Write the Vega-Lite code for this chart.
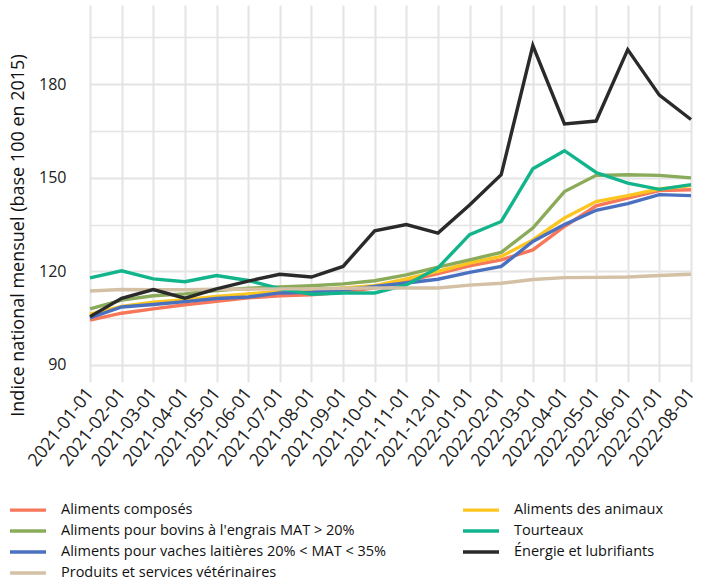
{
  "$schema": "https://vega.github.io/schema/vega-lite/v6.json",
  "width": 634,
  "height": 377,
  "autosize": {"type": "none"},
  "padding": {"left": 70, "top": 5, "right": 0, "bottom": 203},
  "background": "white",
  "config": {
    "view": {"stroke": null},
    "font": "Open Sans"
  },
  "data": {"values": [
      {"mois": "2021-01-01", "serie": "Aliments composés", "indice": 104.4},
      {"mois": "2021-02-01", "serie": "Aliments composés", "indice": 106.6},
      {"mois": "2021-03-01", "serie": "Aliments composés", "indice": 108.0},
      {"mois": "2021-04-01", "serie": "Aliments composés", "indice": 109.3},
      {"mois": "2021-05-01", "serie": "Aliments composés", "indice": 110.4},
      {"mois": "2021-06-01", "serie": "Aliments composés", "indice": 111.5},
      {"mois": "2021-07-01", "serie": "Aliments composés", "indice": 112.2},
      {"mois": "2021-08-01", "serie": "Aliments composés", "indice": 112.5},
      {"mois": "2021-09-01", "serie": "Aliments composés", "indice": 113.3},
      {"mois": "2021-10-01", "serie": "Aliments composés", "indice": 114.7},
      {"mois": "2021-11-01", "serie": "Aliments composés", "indice": 116.8},
      {"mois": "2021-12-01", "serie": "Aliments composés", "indice": 119.3},
      {"mois": "2022-01-01", "serie": "Aliments composés", "indice": 121.8},
      {"mois": "2022-02-01", "serie": "Aliments composés", "indice": 123.7},
      {"mois": "2022-03-01", "serie": "Aliments composés", "indice": 126.9},
      {"mois": "2022-04-01", "serie": "Aliments composés", "indice": 134.4},
      {"mois": "2022-05-01", "serie": "Aliments composés", "indice": 141.0},
      {"mois": "2022-06-01", "serie": "Aliments composés", "indice": 143.5},
      {"mois": "2022-07-01", "serie": "Aliments composés", "indice": 145.9},
      {"mois": "2022-08-01", "serie": "Aliments composés", "indice": 146.2},

      {"mois": "2021-01-01", "serie": "Aliments des animaux", "indice": 106.3},
      {"mois": "2021-02-01", "serie": "Aliments des animaux", "indice": 108.8},
      {"mois": "2021-03-01", "serie": "Aliments des animaux", "indice": 110.1},
      {"mois": "2021-04-01", "serie": "Aliments des animaux", "indice": 110.9},
      {"mois": "2021-05-01", "serie": "Aliments des animaux", "indice": 112.0},
      {"mois": "2021-06-01", "serie": "Aliments des animaux", "indice": 112.8},
      {"mois": "2021-07-01", "serie": "Aliments des animaux", "indice": 113.6},
      {"mois": "2021-08-01", "serie": "Aliments des animaux", "indice": 114.1},
      {"mois": "2021-09-01", "serie": "Aliments des animaux", "indice": 114.7},
      {"mois": "2021-10-01", "serie": "Aliments des animaux", "indice": 115.4},
      {"mois": "2021-11-01", "serie": "Aliments des animaux", "indice": 117.6},
      {"mois": "2021-12-01", "serie": "Aliments des animaux", "indice": 120.0},
      {"mois": "2022-01-01", "serie": "Aliments des animaux", "indice": 122.7},
      {"mois": "2022-02-01", "serie": "Aliments des animaux", "indice": 124.8},
      {"mois": "2022-03-01", "serie": "Aliments des animaux", "indice": 130.1},
      {"mois": "2022-04-01", "serie": "Aliments des animaux", "indice": 137.1},
      {"mois": "2022-05-01", "serie": "Aliments des animaux", "indice": 142.4},
      {"mois": "2022-06-01", "serie": "Aliments des animaux", "indice": 144.3},
      {"mois": "2022-07-01", "serie": "Aliments des animaux", "indice": 146.4},
      {"mois": "2022-08-01", "serie": "Aliments des animaux", "indice": 147.5},

      {"mois": "2021-01-01", "serie": "Aliments pour bovins à l'engrais MAT > 20%", "indice": 108.0},
      {"mois": "2021-02-01", "serie": "Aliments pour bovins à l'engrais MAT > 20%", "indice": 110.8},
      {"mois": "2021-03-01", "serie": "Aliments pour bovins à l'engrais MAT > 20%", "indice": 112.2},
      {"mois": "2021-04-01", "serie": "Aliments pour bovins à l'engrais MAT > 20%", "indice": 112.8},
      {"mois": "2021-05-01", "serie": "Aliments pour bovins à l'engrais MAT > 20%", "indice": 113.9},
      {"mois": "2021-06-01", "serie": "Aliments pour bovins à l'engrais MAT > 20%", "indice": 114.6},
      {"mois": "2021-07-01", "serie": "Aliments pour bovins à l'engrais MAT > 20%", "indice": 115.0},
      {"mois": "2021-08-01", "serie": "Aliments pour bovins à l'engrais MAT > 20%", "indice": 115.4},
      {"mois": "2021-09-01", "serie": "Aliments pour bovins à l'engrais MAT > 20%", "indice": 116.0},
      {"mois": "2021-10-01", "serie": "Aliments pour bovins à l'engrais MAT > 20%", "indice": 117.0},
      {"mois": "2021-11-01", "serie": "Aliments pour bovins à l'engrais MAT > 20%", "indice": 118.9},
      {"mois": "2021-12-01", "serie": "Aliments pour bovins à l'engrais MAT > 20%", "indice": 121.4},
      {"mois": "2022-01-01", "serie": "Aliments pour bovins à l'engrais MAT > 20%", "indice": 123.7},
      {"mois": "2022-02-01", "serie": "Aliments pour bovins à l'engrais MAT > 20%", "indice": 126.1},
      {"mois": "2022-03-01", "serie": "Aliments pour bovins à l'engrais MAT > 20%", "indice": 133.9},
      {"mois": "2022-04-01", "serie": "Aliments pour bovins à l'engrais MAT > 20%", "indice": 145.6},
      {"mois": "2022-05-01", "serie": "Aliments pour bovins à l'engrais MAT > 20%", "indice": 150.8},
      {"mois": "2022-06-01", "serie": "Aliments pour bovins à l'engrais MAT > 20%", "indice": 151.0},
      {"mois": "2022-07-01", "serie": "Aliments pour bovins à l'engrais MAT > 20%", "indice": 150.8},
      {"mois": "2022-08-01", "serie": "Aliments pour bovins à l'engrais MAT > 20%", "indice": 150.0},

      {"mois": "2021-01-01", "serie": "Aliments pour vaches laitières 20% < MAT < 35%", "indice": 105.1},
      {"mois": "2021-02-01", "serie": "Aliments pour vaches laitières 20% < MAT < 35%", "indice": 108.6},
      {"mois": "2021-03-01", "serie": "Aliments pour vaches laitières 20% < MAT < 35%", "indice": 109.4},
      {"mois": "2021-04-01", "serie": "Aliments pour vaches laitières 20% < MAT < 35%", "indice": 110.3},
      {"mois": "2021-05-01", "serie": "Aliments pour vaches laitières 20% < MAT < 35%", "indice": 111.3},
      {"mois": "2021-06-01", "serie": "Aliments pour vaches laitières 20% < MAT < 35%", "indice": 111.8},
      {"mois": "2021-07-01", "serie": "Aliments pour vaches laitières 20% < MAT < 35%", "indice": 113.1},
      {"mois": "2021-08-01", "serie": "Aliments pour vaches laitières 20% < MAT < 35%", "indice": 113.3},
      {"mois": "2021-09-01", "serie": "Aliments pour vaches laitières 20% < MAT < 35%", "indice": 114.1},
      {"mois": "2021-10-01", "serie": "Aliments pour vaches laitières 20% < MAT < 35%", "indice": 115.2},
      {"mois": "2021-11-01", "serie": "Aliments pour vaches laitières 20% < MAT < 35%", "indice": 116.3},
      {"mois": "2021-12-01", "serie": "Aliments pour vaches laitières 20% < MAT < 35%", "indice": 117.5},
      {"mois": "2022-01-01", "serie": "Aliments pour vaches laitières 20% < MAT < 35%", "indice": 119.7},
      {"mois": "2022-02-01", "serie": "Aliments pour vaches laitières 20% < MAT < 35%", "indice": 121.6},
      {"mois": "2022-03-01", "serie": "Aliments pour vaches laitières 20% < MAT < 35%", "indice": 129.6},
      {"mois": "2022-04-01", "serie": "Aliments pour vaches laitières 20% < MAT < 35%", "indice": 135.0},
      {"mois": "2022-05-01", "serie": "Aliments pour vaches laitières 20% < MAT < 35%", "indice": 139.6},
      {"mois": "2022-06-01", "serie": "Aliments pour vaches laitières 20% < MAT < 35%", "indice": 141.7},
      {"mois": "2022-07-01", "serie": "Aliments pour vaches laitières 20% < MAT < 35%", "indice": 144.6},
      {"mois": "2022-08-01", "serie": "Aliments pour vaches laitières 20% < MAT < 35%", "indice": 144.3},

      {"mois": "2021-01-01", "serie": "Tourteaux", "indice": 117.9},
      {"mois": "2021-02-01", "serie": "Tourteaux", "indice": 120.2},
      {"mois": "2021-03-01", "serie": "Tourteaux", "indice": 117.6},
      {"mois": "2021-04-01", "serie": "Tourteaux", "indice": 116.7},
      {"mois": "2021-05-01", "serie": "Tourteaux", "indice": 118.7},
      {"mois": "2021-06-01", "serie": "Tourteaux", "indice": 117.1},
      {"mois": "2021-07-01", "serie": "Tourteaux", "indice": 114.5},
      {"mois": "2021-08-01", "serie": "Tourteaux", "indice": 112.7},
      {"mois": "2021-09-01", "serie": "Tourteaux", "indice": 113.1},
      {"mois": "2021-10-01", "serie": "Tourteaux", "indice": 113.1},
      {"mois": "2021-11-01", "serie": "Tourteaux", "indice": 115.7},
      {"mois": "2021-12-01", "serie": "Tourteaux", "indice": 121.1},
      {"mois": "2022-01-01", "serie": "Tourteaux", "indice": 131.8},
      {"mois": "2022-02-01", "serie": "Tourteaux", "indice": 136.0},
      {"mois": "2022-03-01", "serie": "Tourteaux", "indice": 152.9},
      {"mois": "2022-04-01", "serie": "Tourteaux", "indice": 158.7},
      {"mois": "2022-05-01", "serie": "Tourteaux", "indice": 151.7},
      {"mois": "2022-06-01", "serie": "Tourteaux", "indice": 148.3},
      {"mois": "2022-07-01", "serie": "Tourteaux", "indice": 146.3},
      {"mois": "2022-08-01", "serie": "Tourteaux", "indice": 147.8},

      {"mois": "2021-01-01", "serie": "Produits et services vétérinaires", "indice": 113.7},
      {"mois": "2021-02-01", "serie": "Produits et services vétérinaires", "indice": 114.2},
      {"mois": "2021-03-01", "serie": "Produits et services vétérinaires", "indice": 114.1},
      {"mois": "2021-04-01", "serie": "Produits et services vétérinaires", "indice": 114.1},
      {"mois": "2021-05-01", "serie": "Produits et services vétérinaires", "indice": 114.3},
      {"mois": "2021-06-01", "serie": "Produits et services vétérinaires", "indice": 114.3},
      {"mois": "2021-07-01", "serie": "Produits et services vétérinaires", "indice": 114.4},
      {"mois": "2021-08-01", "serie": "Produits et services vétérinaires", "indice": 114.4},
      {"mois": "2021-09-01", "serie": "Produits et services vétérinaires", "indice": 114.6},
      {"mois": "2021-10-01", "serie": "Produits et services vétérinaires", "indice": 114.7},
      {"mois": "2021-11-01", "serie": "Produits et services vétérinaires", "indice": 114.7},
      {"mois": "2021-12-01", "serie": "Produits et services vétérinaires", "indice": 114.7},
      {"mois": "2022-01-01", "serie": "Produits et services vétérinaires", "indice": 115.6},
      {"mois": "2022-02-01", "serie": "Produits et services vétérinaires", "indice": 116.2},
      {"mois": "2022-03-01", "serie": "Produits et services vétérinaires", "indice": 117.4},
      {"mois": "2022-04-01", "serie": "Produits et services vétérinaires", "indice": 118.0},
      {"mois": "2022-05-01", "serie": "Produits et services vétérinaires", "indice": 118.1},
      {"mois": "2022-06-01", "serie": "Produits et services vétérinaires", "indice": 118.2},
      {"mois": "2022-07-01", "serie": "Produits et services vétérinaires", "indice": 118.7},
      {"mois": "2022-08-01", "serie": "Produits et services vétérinaires", "indice": 119.1},

      {"mois": "2021-01-01", "serie": "Énergie et lubrifiants", "indice": 105.5},
      {"mois": "2021-02-01", "serie": "Énergie et lubrifiants", "indice": 111.4},
      {"mois": "2021-03-01", "serie": "Énergie et lubrifiants", "indice": 114.2},
      {"mois": "2021-04-01", "serie": "Énergie et lubrifiants", "indice": 111.4},
      {"mois": "2021-05-01", "serie": "Énergie et lubrifiants", "indice": 114.4},
      {"mois": "2021-06-01", "serie": "Énergie et lubrifiants", "indice": 116.9},
      {"mois": "2021-07-01", "serie": "Énergie et lubrifiants", "indice": 119.1},
      {"mois": "2021-08-01", "serie": "Énergie et lubrifiants", "indice": 118.2},
      {"mois": "2021-09-01", "serie": "Énergie et lubrifiants", "indice": 121.6},
      {"mois": "2021-10-01", "serie": "Énergie et lubrifiants", "indice": 133.0},
      {"mois": "2021-11-01", "serie": "Énergie et lubrifiants", "indice": 135.0},
      {"mois": "2021-12-01", "serie": "Énergie et lubrifiants", "indice": 132.3},
      {"mois": "2022-01-01", "serie": "Énergie et lubrifiants", "indice": 141.3},
      {"mois": "2022-02-01", "serie": "Énergie et lubrifiants", "indice": 151.0},
      {"mois": "2022-03-01", "serie": "Énergie et lubrifiants", "indice": 192.4},
      {"mois": "2022-04-01", "serie": "Énergie et lubrifiants", "indice": 167.3},
      {"mois": "2022-05-01", "serie": "Énergie et lubrifiants", "indice": 168.2},
      {"mois": "2022-06-01", "serie": "Énergie et lubrifiants", "indice": 191.1},
      {"mois": "2022-07-01", "serie": "Énergie et lubrifiants", "indice": 176.5},
      {"mois": "2022-08-01", "serie": "Énergie et lubrifiants", "indice": 168.7}
  ]},
  "mark": {"type": "line", "strokeJoin": "miter", "strokeCap": "butt", "clip": true},
  "encoding": {
    "x": {
      "field": "mois",
      "type": "ordinal",
      "sort": null,
      "scale": {"type": "point", "range": [20, 621], "padding": 0},
      "axis": {
        "title": null,
        "domain": false,
        "ticks": false,
        "grid": true,
        "gridColor": "#e4e4e4",
        "gridWidth": 2,
        "labelAngle": -52,
        "labelAlign": "right",
        "labelBaseline": "middle",
        "labelPadding": 8,
        "labelFontSize": 18,
        "labelFont": "Open Sans",
        "labelColor": "#222222",
        "labelOverlap": false
      }
    },
    "y": {
      "field": "indice",
      "type": "quantitative",
      "scale": {"domain": [84.55, 205.4], "nice": false, "zero": false},
      "axis": {
        "title": "Indice national mensuel (base 100 en 2015)",
        "titleFont": "Open Sans",
        "titleFontSize": 18,
        "titleFontWeight": "normal",
        "titleColor": "#111111",
        "titleAngle": -90,
        "titleAlign": "center",
        "titleBaseline": "middle",
        "titleX": -52,
        "titleY": 230,
        "values": [90, 105, 120, 135, 150, 165, 180, 195],
        "labelExpr": "datum.value % 30 == 0 ? datum.label : ''",
        "domain": false,
        "ticks": false,
        "grid": true,
        "gridColor": "#e4e4e4",
        "gridWidth": {"condition": {"test": "datum.value % 30 == 0", "value": 2}, "value": 1.3},
        "labelPadding": 4,
        "labelFontSize": 16,
        "labelFont": "Open Sans",
        "labelColor": "#222222"
      }
    },
    "strokeWidth": {
      "field": "serie",
      "type": "nominal",
      "scale": {
        "domain": ["Aliments composés", "Aliments pour bovins à l'engrais MAT > 20%", "Aliments pour vaches laitières 20% < MAT < 35%", "Produits et services vétérinaires", "Aliments des animaux", "Tourteaux", "Énergie et lubrifiants"],
        "range": [3.4, 3.4, 3.4, 4.6, 3.4, 3.4, 3.4]
      },
      "legend": null
    },
    "color": {
      "field": "serie",
      "type": "nominal",
      "scale": {
        "domain": ["Aliments composés", "Aliments pour bovins à l'engrais MAT > 20%", "Aliments pour vaches laitières 20% < MAT < 35%", "Produits et services vétérinaires", "Aliments des animaux", "Tourteaux", "Énergie et lubrifiants"],
        "range": ["#f7775a", "#8aab5a", "#4a70c0", "#d3c0a5", "#fcc520", "#12b48c", "#2a2a2a"]
      },
      "legend": {
        "title": null,
        "orient": "none",
        "legendX": -53,
        "legendY": 494,
        "columns": 2,
        "columnPadding": 69,
        "rowPadding": 3,
        "symbolType": "M-2,0H2",
        "symbolSize": 324,
        "symbolStrokeWidth": 4,
        "labelOffset": 22,
        "labelFontSize": 14.5,
        "labelFont": "Open Sans",
        "labelColor": "#111111",
        "labelLimit": 500,
        "padding": 0
      }
    }
  }
}
